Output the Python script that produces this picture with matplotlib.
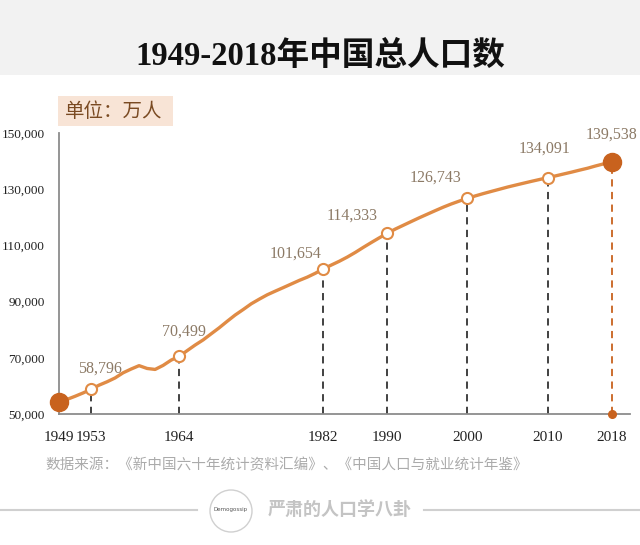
#!/usr/bin/env python3

import matplotlib
matplotlib.use("Agg")
import matplotlib.pyplot as plt
from matplotlib.patches import Rectangle, Ellipse
from matplotlib.lines import Line2D

# Total population of China, 10k persons, 1949-2018
years = list(range(1949, 2019))
population = [
    54167, 55196, 56300, 57482, 58796, 60266, 61465, 62828, 64653, 65994,
    67207, 66207, 65859, 67296, 69172, 70499, 72538, 74542, 76368, 78534,
    80671, 82992, 85229, 87177, 89211, 90859, 92420, 93717, 94974, 96259,
    97542, 98705, 100072, 101654, 103008, 104357, 105851, 107507, 109300, 111026,
    112704, 114333, 115823, 117171, 118517, 119850, 121121, 122389, 123626, 124761,
    125786, 126743, 127627, 128453, 129227, 129988, 130756, 131448, 132129, 132802,
    133450, 134091, 134735, 135404, 136072, 136782, 137462, 138271, 139008, 139538,
]

marked_years = [1949, 1953, 1964, 1982, 1990, 2000, 2010, 2018]
label_years = [1953, 1964, 1982, 1990, 2000, 2010, 2018]
# label offsets in pixels (dx, dy) from each marker
label_offsets = [(9, 21), (5, 25), (-28, 15), (-35, 18), (-32, 21), (-3, 29), (0, 28)]
y_ticks = [50000, 70000, 90000, 110000, 130000, 150000]

title = "1949-2018年中国总人口数"
unit_text = "单位：万人"
source_text = "数据来源：《新中国六十年统计资料汇编》、《中国人口与就业统计年鉴》"
brand_text = "严肃的人口学八卦"

LINE = "#E08B45"
DARK = "#C8621E"
LABEL = "#8C7A66"
SERIF = ["Liberation Serif", "Noto Sans CJK SC"]
CJK = ["Noto Sans CJK SC", "DejaVu Sans"]

W, H = 640, 545
fig = plt.figure(figsize=(W / 100, H / 100), dpi=100)
fig.patch.set_facecolor("white")


def fx(px):
    return px / W


def fy(py):
    return 1 - py / H


# title band
fig.add_artist(Rectangle((0, fy(75)), 1, 75 / H, transform=fig.transFigure,
                         facecolor="#F2F2F2", edgecolor="none", zorder=0))
fig.text(0.5, fy(65), title, ha="center", va="baseline", fontsize=23.5,
         fontweight="bold", family=SERIF, color="#111111")

ax = fig.add_axes([fx(59), fy(414), fx(571), 281 / H])
ax.set_xlim(1949, 2020.3)
ax.set_ylim(50000, 150000)
ax.patch.set_alpha(0)

ax.plot(years, population, color=LINE, lw=2.4, solid_capstyle="round", zorder=3)

pop = dict(zip(years, population))

# dashed drops to the axis
for yr in marked_years[1:]:
    c = DARK if yr == 2018 else "#333333"
    ax.plot([yr, yr], [50000, pop[yr]], color=c, lw=1.3, ls=(0, (4, 3)), zorder=2)

for yr in marked_years[1:-1]:
    ax.plot(yr, pop[yr], "o", ms=8, mfc="white", mec=LINE, mew=1.5, zorder=4)
for yr in [1949, 2018]:
    ax.plot(yr, pop[yr], "o", ms=13, color=DARK, zorder=5, clip_on=False)
ax.plot(2018, 50000, "o", ms=5.5, color=DARK, zorder=5, clip_on=False)

for yr, (dx, dy) in zip(label_years, label_offsets):
    ax.annotate(f"{pop[yr]:,}", (yr, pop[yr]), xytext=(dx * 0.72, dy * 0.72),
                textcoords="offset points", ha="center", va="center",
                fontsize=11.5, family=SERIF, color=LABEL, annotation_clip=False)

for s in ["top", "right"]:
    ax.spines[s].set_visible(False)
for s in ["left", "bottom"]:
    ax.spines[s].set_color("#8C8C8C")
    ax.spines[s].set_linewidth(1.3)

ax.set_xticks(marked_years)
ax.set_xticklabels([str(y) for y in marked_years], family=SERIF, fontsize=11)
ax.set_yticks(y_ticks)
ax.set_yticklabels([f"{v:,}" for v in y_ticks], family=SERIF, fontsize=9.5)
ax.tick_params(axis="x", length=0, pad=12, colors="#222222")
ax.tick_params(axis="y", length=0, pad=10, colors="#222222")

# unit box
fig.add_artist(Rectangle((fx(58), fy(126)), 115 / W, 30 / H, transform=fig.transFigure,
                         facecolor="#F8E4D6", edgecolor="none", zorder=1))
fig.text(fx(65), fy(111), unit_text, ha="left", va="center", fontsize=14,
         family=CJK, color="#7A4A22")

# source
fig.text(fx(45), fy(465), source_text, ha="left", va="center", fontsize=10.5,
         family=CJK, color="#ABABAB")

# footer
fig.add_artist(Line2D([0, fx(197)], [fy(510), fy(510)], transform=fig.transFigure,
                      color="#D0D0D0", lw=1.5))
fig.add_artist(Line2D([fx(424), 1], [fy(510), fy(510)], transform=fig.transFigure,
                      color="#D0D0D0", lw=1.5))
fig.add_artist(Ellipse((fx(231), fy(511)), 42 / W, 42 / H, transform=fig.transFigure,
                       facecolor="white", edgecolor="#D0D0D0", lw=1))
fig.text(fx(231), fy(510), "Demogossip", ha="center", va="center", fontsize=4,
         color="#555555")
fig.text(fx(268), fy(510), brand_text, ha="left", va="center", fontsize=13,
         family=CJK, color="#C4C4C4", fontweight="bold")

fig.savefig("out.png", dpi=100)
